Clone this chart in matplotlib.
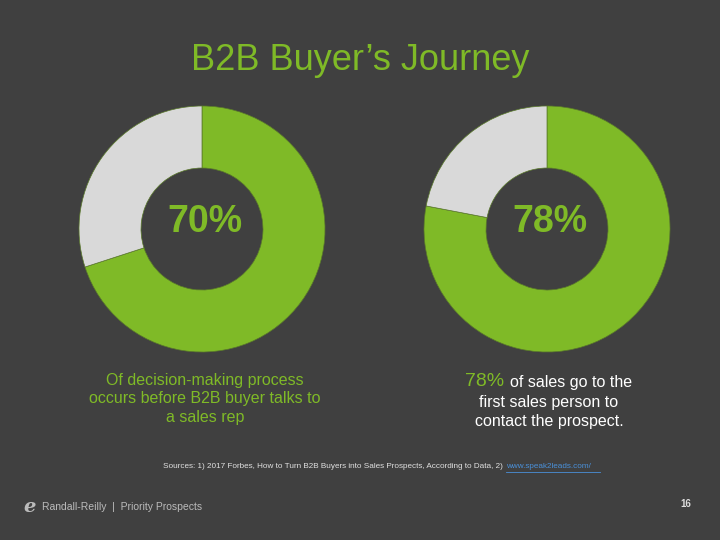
import matplotlib
matplotlib.use("Agg")
import matplotlib.pyplot as plt

BG = "#404040"
GREEN = "#7fba27"
GRAY = "#d9d9d9"

pct_left = [70, 30]
pct_right = [78, 22]
labels_big = ["70%", "78%"]

fig = plt.figure(figsize=(7.2, 5.4), dpi=100, facecolor=BG)
ax = fig.add_axes([0, 0, 1, 1])

def Y(y):
    return 540 - y

for vals, cx, lab in [(pct_left, 202, labels_big[0]), (pct_right, 547, labels_big[1])]:
    ax.pie(vals, colors=[GREEN, GRAY], startangle=90, counterclock=False,
           center=(cx, Y(229)), radius=123, frame=True,
           wedgeprops=dict(width=62, edgecolor="#5a7a2a", linewidth=0.5))
    ax.text(cx + 3, Y(222), lab, color=GREEN, fontsize=27, fontweight="bold",
            ha="center", va="center", family="Liberation Sans")
ax.set_xlim(0, 720)
ax.set_ylim(0, 540)
ax.set_aspect("equal")
ax.axis("off")

ax.text(360, Y(60), "B2B Buyer’s Journey", color=GREEN, fontsize=26,
        ha="center", va="center", family="Liberation Sans")

ax.text(205, Y(399), "Of decision-making process\noccurs before B2B buyer talks to\na sales rep",
        color=GREEN, fontsize=11.5, ha="center", va="center", linespacing=1.3,
        family="Liberation Sans")

ax.text(465, Y(381), "78%", color=GREEN, fontsize=14, ha="left", va="center",
        family="Liberation Sans")
ax.text(510, Y(383), "of sales go to the", color="white", fontsize=11.5, ha="left",
        va="center", family="Liberation Sans")
ax.text(549, Y(412), "first sales person to\ncontact the prospect.", color="white",
        fontsize=11.5, ha="center", va="center", linespacing=1.3, family="Liberation Sans")

ax.text(503, Y(467), "Sources: 1) 2017 Forbes, How to Turn B2B Buyers into Sales Prospects, According to Data, 2)",
        color="#e0e0e0", fontsize=5.9, ha="right", va="center", family="Liberation Sans")
ax.text(506, Y(467), "www.speak2leads.com/", color="#4a90d9", fontsize=5.9, ha="left",
        va="center", family="Liberation Sans")
ax.plot([506, 600], [Y(472), Y(472)], color="#4a90d9", lw=0.6)

ax.text(30, Y(506), "ℯ", color="#bbbbbb", fontsize=14, ha="center", va="center", fontweight="bold")
ax.text(42, Y(507), "Randall-Reilly  |  Priority Prospects", color="#bbbbbb", fontsize=7.5,
        ha="left", va="center", family="Liberation Sans")
ax.text(686, Y(504), "16", color="#dddddd", fontsize=7, ha="center", va="center",
        fontweight="bold", family="Liberation Sans")

fig.savefig("out.png", dpi=100, facecolor=BG)
